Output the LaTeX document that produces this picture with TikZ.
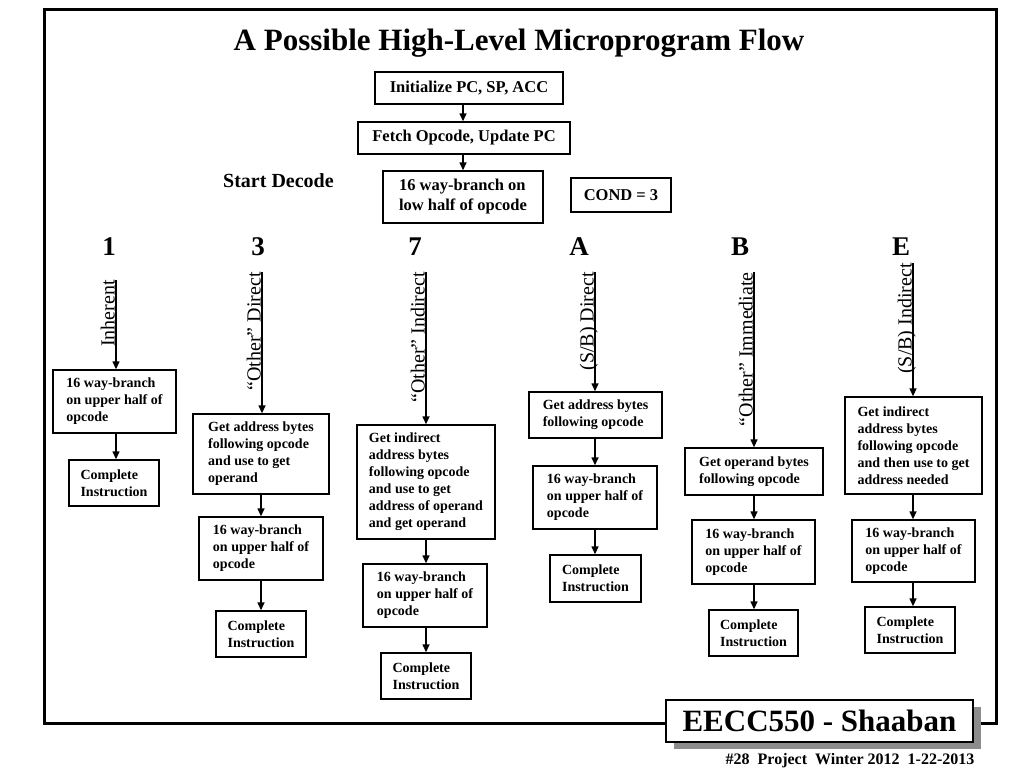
\documentclass[tikz,border=0pt]{standalone}
\usepackage{fontspec}
\setmainfont{Liberation Serif}
\usetikzlibrary{arrows.meta,shadows}

\newcommand*{\titlefnt}{\fontsize{31}{36}\selectfont\bfseries}
\newcommand*{\topfnt}{\fontsize{16.5}{20}\selectfont\bfseries}
\newcommand*{\boxfnt}{\fontsize{14}{17}\selectfont\bfseries}
\newcommand*{\lblfnt}{\fontsize{20}{24}\selectfont}
\newcommand*{\digfnt}{\fontsize{27}{30}\selectfont\bfseries}
\newcommand*{\signfnt}{\fontsize{31}{36}\selectfont\bfseries}
\newcommand*{\datefnt}{\fontsize{16}{19}\selectfont\bfseries}

\begin{document}
\begin{tikzpicture}
[
	x=1pt, y=-1pt,
	box/.style={draw, line width=1.4pt, inner sep=0pt, align=left, font=\boxfnt},
	sz/.style 2 args={minimum width=#1pt, minimum height=#2pt},
	arr/.style={-{Triangle[length=8pt,width=7pt]}, line width=1.4pt},
	lbl/.style={rotate=90, anchor=base east, inner sep=0pt, font=\lblfnt},
	digit/.style={anchor=base, inner sep=0pt, font=\digfnt}
]
	\useasboundingbox (0,0) rectangle (1024,768);

	% frame
	\draw[line width=3pt] (44,10) rectangle (996,723);
	\node[anchor=base, font=\titlefnt] (title) at (519,50) {A Possible High-Level Microprogram Flow};

	% start
	\node[box, font=\topfnt, sz={188}{32}] (init) at (469,88) {Initialize PC, SP, ACC};
	\node[box, font=\topfnt, sz={212}{32}] (fetch) at (464,138) {Fetch Opcode, Update PC};
	\node[box, font=\topfnt, sz={160}{52}] (branch) at (463,197) {16 way-branch on\\ low half of opcode};
	\node[box, font=\topfnt, sz={100}{34}] (cond) at (621,195) {COND = 3};
	\node[anchor=base west, inner sep=0pt, font=\fontsize{20}{24}\selectfont\bfseries] (decode) at (223,187) {Start Decode};
	\draw[arr] (init.south -| branch) -- (fetch.north -| branch);
	\draw[arr] (fetch.south -| branch) -- (branch.north);

	% opcodes
	\node[digit] (dig1) at (109,255) {1};
	\node[digit] (dig3) at (258,255) {3};
	\node[digit] (dig7) at (415,255) {7};
	\node[digit] (digA) at (579,255) {A};
	\node[digit] (digB) at (740,255) {B};
	\node[digit] (digE) at (901,255) {E};

	% 1
	\coordinate (t1) at (116,280);
	\node[box, sz={123}{63}] (d1a) at (114.5,401.5) {16 way-branch\\ on upper half of\\ opcode};
	\node[box, sz={90}{46}] (d1b) at (114,483) {Complete\\ Instruction};
	\node[lbl] (l1) at ([xshift=-1.5pt]t1) {Inherent};
	\draw[arr] (t1) -- (t1 |- d1a.north);
	\draw[arr] (t1 |- d1a.south) -- (t1 |- d1b.north);

	% 3
	\coordinate (t3) at (262,272);
	\node[box, sz={136}{80}] (d3a) at (261,454) {Get address bytes\\ following opcode\\ and use to get\\ operand};
	\node[box, sz={124}{63}] (d3b) at (261,548.5) {16 way-branch\\ on upper half of\\ opcode};
	\node[box, sz={90}{46}] (d3c) at (261,634) {Complete\\ Instruction};
	\node[lbl] (l3) at ([xshift=-1.5pt]t3) {``Other'' Direct};
	\draw[arr] (t3) -- (t3 |- d3a.north);
	\draw[arr] (d3a) -- (d3b);
	\draw[arr] (d3b) -- (d3c);

	% 7
	\coordinate (t7) at (426,272);
	\node[box, sz={138}{114}] (d7a) at (426,482) {Get indirect\\ address bytes\\ following opcode\\ and use to get\\ address of operand\\ and get operand};
	\node[box, sz={124}{63}] (d7b) at (425,595.5) {16 way-branch\\ on upper half of\\ opcode};
	\node[box, sz={90}{46}] (d7c) at (426,676) {Complete\\ Instruction};
	\node[lbl] (l7) at ([xshift=-1.5pt]t7) {``Other'' Indirect};
	\draw[arr] (t7) -- (t7 |- d7a.north);
	\draw[arr] (t7 |- d7a.south) -- (t7 |- d7b.north);
	\draw[arr] (t7 |- d7b.south) -- (t7 |- d7c.north);

	% A
	\coordinate (tA) at (595,272);
	\node[box, sz={133}{46}] (dAa) at (595.5,415) {Get address bytes\\ following opcode};
	\node[box, sz={124}{63}] (dAb) at (595,497.5) {16 way-branch\\ on upper half of\\ opcode};
	\node[box, sz={91}{47}] (dAc) at (595.5,578.5) {Complete\\ Instruction};
	\node[lbl] (lA) at ([xshift=-1.5pt]tA) {(S/B) Direct};
	\draw[arr] (tA) -- (tA |- dAa.north);
	\draw[arr] (tA |- dAa.south) -- (tA |- dAb.north);
	\draw[arr] (tA |- dAb.south) -- (tA |- dAc.north);

	% B
	\coordinate (tB) at (754,272);
	\node[box, sz={138}{47}] (dBa) at (754,471.5) {Get operand bytes\\ following opcode};
	\node[box, sz={123}{64}] (dBb) at (753.5,552) {16 way-branch\\ on upper half of\\ opcode};
	\node[box, sz={89}{46}] (dBc) at (753.5,633) {Complete\\ Instruction};
	\node[lbl] (lB) at ([xshift=-1.5pt]tB) {``Other'' Immediate};
	\draw[arr] (tB) -- (tB |- dBa.north);
	\draw[arr] (tB |- dBa.south) -- (tB |- dBb.north);
	\draw[arr] (tB |- dBb.south) -- (tB |- dBc.north);

	% E
	\coordinate (tE) at (913,263);
	\node[box, sz={137}{97}] (dEa) at (913.5,445.5) {Get indirect\\ address bytes\\ following opcode\\ and then use to get\\ address needed};
	\node[box, sz={123}{62}] (dEb) at (913.5,551) {16 way-branch\\ on upper half of\\ opcode};
	\node[box, sz={90}{46}] (dEc) at (910,630) {Complete\\ Instruction};
	\node[lbl] (lE) at ([xshift=-1.5pt]tE) {(S/B) Indirect};
	\draw[arr] (tE) -- (tE |- dEa.north);
	\draw[arr] (tE |- dEa.south) -- (tE |- dEb.north);
	\draw[arr] (tE |- dEb.south) -- (tE |- dEc.north);

	% footer
	\node[draw, fill=white, line width=1.4pt, sz={307}{42}, inner sep=0pt, font=\signfnt,
		drop shadow={shadow xshift=8pt, shadow yshift=-7pt, fill=black!45, opacity=1}] (sign) at (819.5,721) {EECC550 - Shaaban};
	\node[anchor=base, inner sep=0pt, font=\datefnt] (date) at (850,764) {\#28~~Project~~Winter 2012~~1-22-2013};

\end{tikzpicture}
\end{document}
